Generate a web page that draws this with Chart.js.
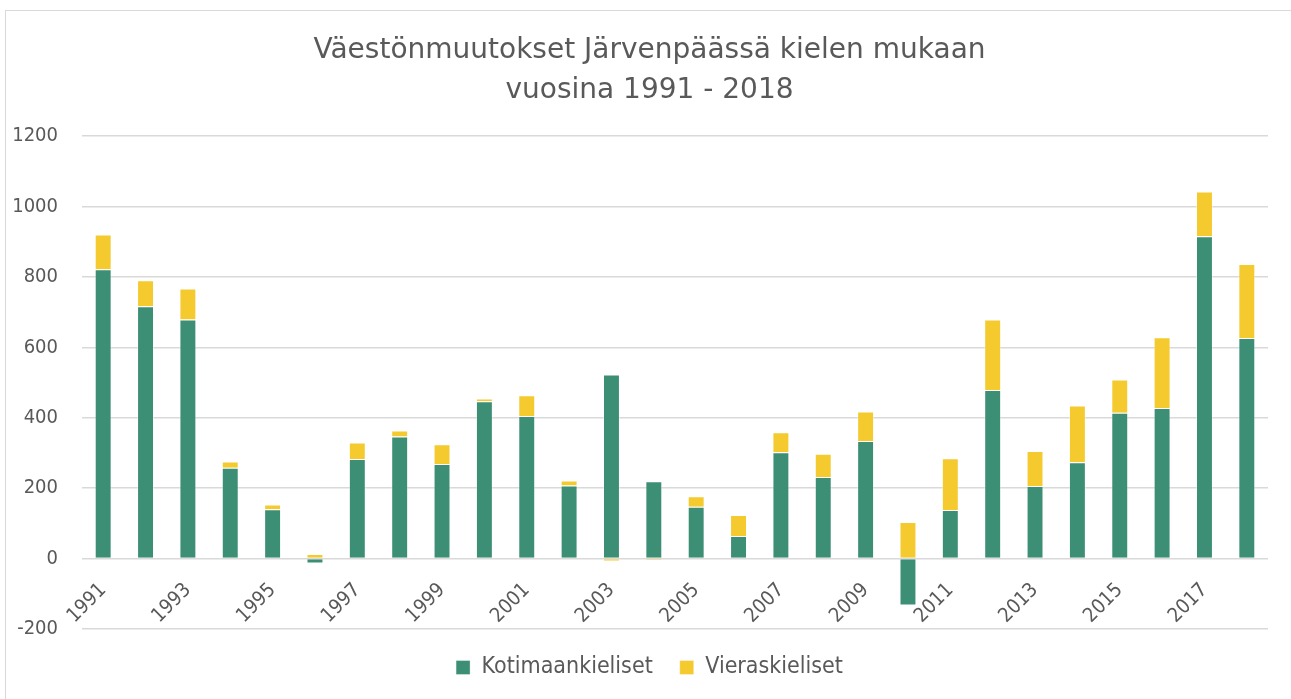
<!DOCTYPE html>
<html lang="fi">
<head>
<meta charset="utf-8">
<title>Väestönmuutokset Järvenpäässä kielen mukaan</title>
<script src="https://cdn.jsdelivr.net/npm/chart.js@4.4.1/dist/chart.umd.min.js"></script>
<style>
  html, body { margin: 0; padding: 0; background: #fff; overflow: hidden; }
  .frame { position: absolute; left: 5px; top: 10px; width: 1300px; height: 720px; border: 1px solid #d9d9d9; }
  .wrap { position: absolute; left: 0; top: 0; width: 1291px; height: 699px; }
</style>
</head>
<body>
<div class="frame"></div>
<div class="wrap"><canvas id="chart"></canvas></div>
<script>
/* ── Data ── */
const years = ['1991','1992','1993','1994','1995','1996','1997','1998','1999','2000',
               '2001','2002','2003','2004','2005','2006','2007','2008','2009','2010',
               '2011','2012','2013','2014','2015','2016','2017','2018'];

const kotimaankieliset = [822, 717, 679, 258, 140, -14, 283, 347, 269, 447,
                          405, 208, 523, 220, 147,  64, 302, 232, 334, -133,
                          138, 479, 206, 274, 414, 428, 916, 627];

const vieraskieliset   = [ 99,  74,  88,  18,  14,  13,  47,  17,  56,   8,
                           59,  14,  -8,  -4,  30,  60,  57,  66,  84, 104,
                          147, 200, 100, 161,  95, 201, 127, 210];

const titleLines = ['Väestönmuutokset Järvenpäässä kielen mukaan', 'vuosina 1991 - 2018'];

/* ── Look ── */
const FONT_C = "'DejaVu Sans Condensed', 'DejaVu Sans', sans-serif";
const FONT_T = "'DejaVu Sans', sans-serif";
const TEXT = '#595959';
const GREEN = '#3c8f75';
const YELLOW = '#f5ca2f';

new Chart(document.getElementById('chart'), {
  type: 'bar',
  data: {
    labels: years,
    datasets: [
      { label: 'Kotimaankieliset', data: kotimaankieliset, backgroundColor: GREEN,
        borderColor: 'rgba(255,255,255,0.35)', borderWidth: 1 },
      { label: 'Vieraskieliset', data: vieraskieliset, backgroundColor: YELLOW,
        borderColor: 'rgba(255,255,255,0.35)', borderWidth: 1 }
    ]
  },
  options: {
    responsive: true, maintainAspectRatio: false, animation: false,
    layout: { padding: { left: 8, right: 0, top: 0, bottom: 10 } },
    datasets: { bar: { categoryPercentage: 1, barPercentage: 0.4 } },
    plugins: {
      title: {
        display: true, text: titleLines, color: TEXT,
        font: { family: FONT_T, size: 28, weight: 'normal', lineHeight: 1.45 },
        padding: { top: 30, bottom: 25 }
      },
      legend: {
        position: 'bottom',
        labels: {
          color: TEXT, boxWidth: 14, boxHeight: 14, padding: 27,
          font: { family: FONT_C, size: 23 }
        }
      },
      tooltip: { enabled: false }
    },
    scales: {
      x: {
        stacked: true,
        position: { y: 0 },
        grid: { display: false, drawTicks: false },
        border: { display: false },
        ticks: {
          color: TEXT, font: { family: FONT_C, size: 20 },
          autoSkip: false, minRotation: 45, maxRotation: 45, padding: 20,
          callback: (v, i) => (i % 2 === 0 ? years[i] : '')
        }
      },
      y: {
        stacked: true, min: -200, max: 1200,
        grid: { color: '#d9d9d9', lineWidth: 1.5, drawTicks: false },
        border: { display: false },
        ticks: {
          stepSize: 200, color: TEXT, padding: 24, font: { family: FONT_C, size: 20 },
          callback: v => String(v)
        },
        afterFit: s => { s.width = 74; }
      },
      // empty right-hand strip so the plot ends where the reference does
      yRight: {
        type: 'linear', position: 'right', display: true,
        grid: { display: false, drawTicks: false },
        border: { display: false },
        ticks: { display: false },
        afterFit: s => { s.width = 23; }
      }
    }
  }
});
</script>
</body>
</html>
